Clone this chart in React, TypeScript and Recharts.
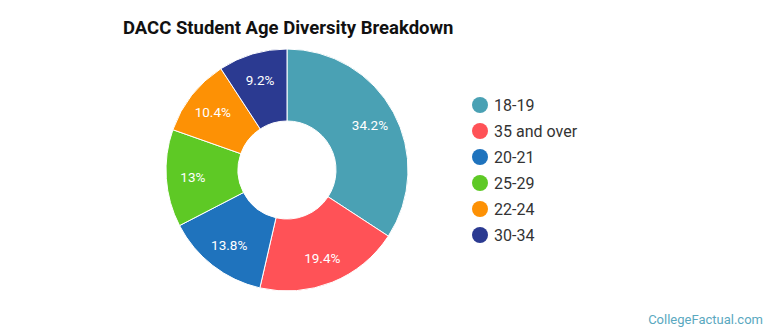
import { PieChart, Pie, Cell, Legend } from "recharts"

const categories = ["18-19", "35 and over", "20-21", "25-29", "22-24", "30-34"]
const shares = [34.2, 19.4, 13.8, 13, 10.4, 9.2]
const colors = ["#4aa1b4", "#ff5257", "#1f73bd", "#5ec925", "#fd9105", "#2b3a91"]

const data = categories.map((name, i) => ({ name, value: shares[i] }))

const RAD = Math.PI / 180

function renderLabel(props: any) {
  const { cx, cy, midAngle, innerRadius, outerRadius, value } = props
  const r = innerRadius + (outerRadius - innerRadius) * 0.63
  const x = cx + r * Math.cos(-midAngle * RAD)
  const y = cy + r * Math.sin(-midAngle * RAD)
  return (
    <text
      x={x}
      y={y}
      fill="#ffffff"
      textAnchor="middle"
      dominantBaseline="central"
      fontFamily="Roboto"
      fontSize={13.5}
    >
      {value}%
    </text>
  )
}

function LegendBox() {
  return (
    <div style={{ fontFamily: "Roboto", fontSize: 16, color: "#333" }}>
      {data.map((d, i) => (
        <div key={d.name} style={{ display: "flex", alignItems: "center", height: 26 }}>
          <span
            style={{
              display: "inline-block",
              width: 16,
              height: 16,
              borderRadius: 8,
              background: colors[i],
              marginRight: 6,
            }}
          />
          <span>{d.name}</span>
        </div>
      ))}
    </div>
  )
}

export default function App() {
  return (
    <div style={{ position: "fixed", left: 0, top: 0, width: 770, height: 335, background: "#fff" }}>
      <div
        style={{
          position: "absolute",
          left: 123,
          top: 17,
          fontFamily: "Roboto",
          fontWeight: 700,
          fontSize: 18.5,
          color: "#111",
          whiteSpace: "nowrap",
        }}
      >
        DACC Student Age Diversity Breakdown
      </div>
      <PieChart width={770} height={335} margin={{ top: 0, right: 0, bottom: 0, left: 0 }}>
        <Pie
          data={data}
          dataKey="value"
          nameKey="name"
          cx={287}
          cy={170}
          innerRadius={49}
          outerRadius={121}
          startAngle={90}
          endAngle={-270}
          stroke="#ffffff"
          strokeWidth={1}
          label={renderLabel}
          labelLine={false}
          isAnimationActive={false}
        >
          {data.map((d, i) => (
            <Cell key={d.name} fill={colors[i]} />
          ))}
        </Pie>
        <Legend
          content={<LegendBox />}
          wrapperStyle={{ position: "absolute", left: 472, top: 92, width: 200 }}
        />
      </PieChart>
      <div
        style={{
          position: "absolute",
          right: 7,
          top: 312,
          fontFamily: "Roboto",
          fontSize: 13,
          color: "#5aa8c0",
          whiteSpace: "nowrap",
        }}
      >
        CollegeFactual.com
      </div>
    </div>
  )
}
